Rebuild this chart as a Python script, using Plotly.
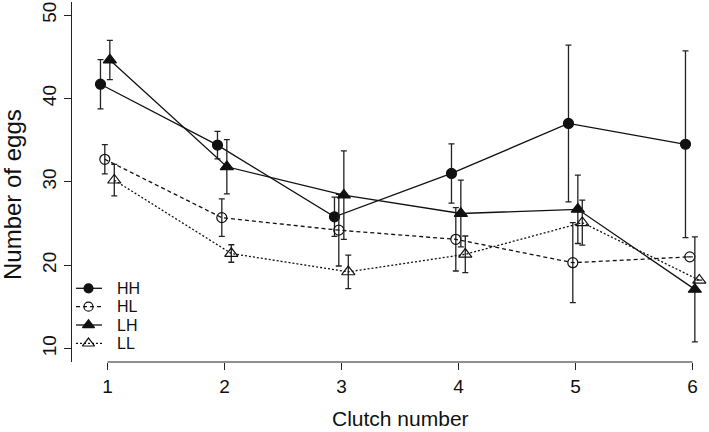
import plotly.graph_objects as go

# ---- data ----
clutch = [1, 2, 3, 4, 5, 6]
series_names = ["HH", "HL", "LH", "LL"]
hh_mean = [41.7, 34.4, 25.8, 31.0, 37.0, 34.5]
hh_se = [2.95, 1.65, 2.35, 3.55, 9.4, 11.2]
hl_mean = [32.7, 25.7, 24.2, 23.1, 20.3, 21.0]
hl_se = [1.75, 2.25, 4.3, 3.8, 4.8, 0.0]
lh_mean = [44.6, 31.8, 28.4, 26.2, 26.7, 17.1]
lh_se = [2.35, 3.25, 5.3, 4.0, 4.1, 6.3]
ll_mean = [30.2, 21.4, 19.2, 21.3, 25.1, 18.2]
ll_se = [1.9, 1.05, 2.0, 2.2, 2.7, 0.0]
y_ticks = [10, 20, 30, 40, 50]

means = {"HH": hh_mean, "HL": hl_mean, "LH": lh_mean, "LL": ll_mean}
errs = {"HH": hh_se, "HL": hl_se, "LH": lh_se, "LL": ll_se}

# ---- styles ----
dodge = {"HH": -0.06, "HL": -0.023, "LH": 0.02, "LL": 0.058}
symbols = {"HH": "circle", "HL": "circle-open", "LH": "triangle-up", "LL": "triangle-up-open"}
msize = {"HH": 10, "HL": 10, "LH": 11.5, "LL": 11.5}
dashes = {"HH": "solid", "HL": "4px,3px", "LH": "solid", "LL": "2px,2px"}
FONT = "Liberation Sans, Arial, Helvetica, sans-serif"
INK = "#111111"
AXC = "#222222"

W, H = 709, 432
ML, MR, MT, MB = 72, 0, 2, 70
plot_w = W - ML - MR
plot_h = H - MT - MB

fig = go.Figure()

for name in series_names:
    xs = [c + dodge[name] for c in clutch]
    fig.add_trace(go.Scatter(
        x=xs, y=means[name], mode="lines+markers", name=name,
        line=dict(color=INK, width=1.3, dash=dashes[name]),
        marker=dict(symbol=symbols[name], size=msize[name], color=INK,
                    line=dict(color=INK, width=1.2)),
        error_y=dict(type="data", array=errs[name], visible=True,
                     color="#222222", thickness=1.3, width=3),
        showlegend=False, cliponaxis=False,
    ))

# ---- legend drawn on a pixel-scaled overlay axis ----
leg_y0, leg_step = 288.3, 18.35
for i, name in enumerate(series_names):
    yy = leg_y0 + i * leg_step
    fig.add_trace(go.Scatter(
        x=[76, 88.5, 102], y=[yy, yy, yy], xaxis="x2", yaxis="y2",
        mode="lines", line=dict(color=INK, width=1.3, dash=dashes[name]),
        showlegend=False, hoverinfo="skip",
    ))
    fig.add_trace(go.Scatter(
        x=[88.5], y=[yy], xaxis="x2", yaxis="y2", mode="markers",
        marker=dict(symbol=symbols[name], size=msize[name] - 1, color=INK,
                    line=dict(color=INK, width=1.2)),
        showlegend=False, hoverinfo="skip", cliponaxis=False,
    ))
    fig.add_annotation(x=116, y=yy, xref="x2", yref="y2", text=name,
                       showarrow=False, xanchor="left", yanchor="middle",
                       borderpad=0,
                       font=dict(family=FONT, size=16, color=INK))

# x axis line only between first and last clutch
fig.add_shape(type="line", xref="x", yref="paper", x0=clutch[0], x1=clutch[-1],
              y0=0, y1=0, line=dict(color=AXC, width=1.2))

# axis titles
fig.add_annotation(x=(400 - ML) / plot_w, y=(MT + plot_h - 419) / plot_h,
                   xref="paper", yref="paper", text="Clutch number",
                   showarrow=False, xanchor="center", yanchor="middle",
                   font=dict(family=FONT, size=21, color=INK))
fig.add_annotation(x=(12 - ML) / plot_w, y=(MT + plot_h - 195) / plot_h,
                   xref="paper", yref="paper", text="Number of eggs",
                   showarrow=False, xanchor="center", yanchor="middle",
                   textangle=-90, font=dict(family=FONT, size=24, color=INK))

fig.update_layout(
    width=W, height=H, margin=dict(l=ML, r=MR, t=MT, b=MB),
    plot_bgcolor="white", paper_bgcolor="white",
    font=dict(family=FONT, color=INK),
    xaxis=dict(range=[0.6966, 6.141], tickmode="array", tickvals=clutch,
               ticktext=[str(c) for c in clutch], ticks="outside", ticklen=7,
               tickwidth=1.2, tickcolor=AXC, showline=False,
               showgrid=False, zeroline=False,
               tickfont=dict(family=FONT, size=19, color=INK)),
    yaxis=dict(range=[8.39, 51.56], tickmode="array", tickvals=y_ticks,
               ticks="outside", ticklen=7, tickwidth=1.2, tickcolor=AXC,
               showline=True, linecolor=AXC, linewidth=1.2,
               showgrid=False, zeroline=False, tickangle=-90,
               tickfont=dict(family=FONT, size=19, color=INK)),
    xaxis2=dict(domain=[0, 1], range=[ML, W - MR], overlaying="x",
                visible=False, fixedrange=True),
    yaxis2=dict(domain=[0, 1], range=[MT + plot_h, MT], overlaying="y",
                visible=False, fixedrange=True),
)

fig.write_html("out.html", config={"displayModeBar": False},
               post_script="document.body.style.margin='0';document.body.style.overflow='hidden';")
